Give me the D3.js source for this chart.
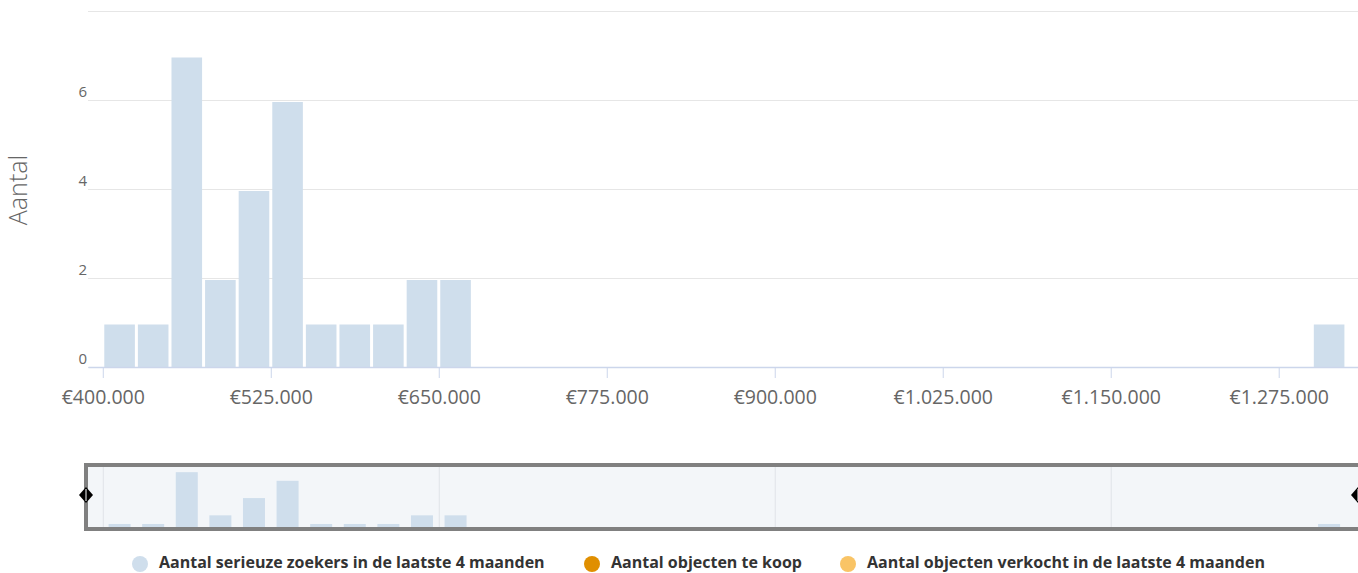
<!DOCTYPE html>
<html>
<head>
<meta charset="utf-8">
<script src="https://cdn.jsdelivr.net/npm/d3@7"></script>
<style>
  body { margin: 0; background: #fff; }
  text { font-family: "Open Sans", Lato, sans-serif; }
</style>
</head>
<body>
<div id="chart"></div>
<script>
// price bins (start of each 25.000 bin)
var binStarts = [400000, 425000, 450000, 475000, 500000, 525000, 550000, 575000, 600000, 625000,
  650000, 675000, 700000, 725000, 750000, 775000, 800000, 825000, 850000, 875000,
  900000, 925000, 950000, 975000, 1000000, 1025000, 1050000, 1075000, 1100000, 1125000,
  1150000, 1175000, 1200000, 1225000, 1250000, 1275000, 1300000];
var binWidth = 25000;
var zoekers = [1, 1, 7, 2, 4, 6, 1, 1, 1, 2,
  2, 0, 0, 0, 0, 0, 0, 0, 0, 0,
  0, 0, 0, 0, 0, 0, 0, 0, 0, 0,
  0, 0, 0, 0, 0, 0, 1];
var xTicks = [400000, 525000, 650000, 775000, 900000, 1025000, 1150000, 1275000];
var yTicks = [0, 2, 4, 6, 8];
var navTicks = [400000, 650000, 900000, 1150000];
var legendItems = ["Aantal serieuze zoekers in de laatste 4 maanden", "Aantal objecten te koop", "Aantal objecten verkocht in de laatste 4 maanden"];
var legendColors = ["#cfdeec", "#e08f00", "#f9c466"];

var W = 1358, H = 573;
var svg = d3.select("#chart").append("svg")
  .attr("width", W).attr("height", H);

var euro = d3.formatLocale({decimal: ",", thousands: ".", grouping: [3], currency: ["€", ""]}).format("$,");

// main scales
var x = d3.scaleLinear().domain([389000, 1334000]).range([88, 1358]);
var y = d3.scaleLinear().domain([0, 8]).range([367, 11]);

// gridlines
svg.append("g")
  .selectAll("line").data(yTicks).enter().append("line")
    .attr("x1", 88).attr("x2", W)
    .attr("y1", function(d) { return y(d) + 0.5; })
    .attr("y2", function(d) { return y(d) + 0.5; })
    .attr("stroke", "#e6e6e6");

// y labels
svg.append("g")
  .selectAll("text").data(yTicks.filter(function(d) { return d < 8; })).enter().append("text")
    .attr("x", 87).attr("y", function(d) { return y(d) - 3; })
    .attr("text-anchor", "end")
    .attr("font-size", "15px").attr("fill", "#666")
    .text(function(d) { return d; });

// bars
svg.append("g")
  .selectAll("rect").data(binStarts).enter().append("rect")
    .attr("x", function(d) { return x(d) + 1.5; })
    .attr("width", function(d) { return x(d + binWidth) - x(d) - 3; })
    .attr("y", function(d, i) { return y(zoekers[i]) + 2; })
    .attr("height", function(d, i) { return Math.max(0, y(0) - y(zoekers[i]) - 2); })
    .attr("fill", "#cfdeec");

// x axis
var xAxis = svg.append("g")
  .attr("transform", "translate(0,367)")
  .call(d3.axisBottom(x).tickValues(xTicks).tickFormat(euro).tickSizeInner(11).tickSizeOuter(0).tickPadding(12));
xAxis.select(".domain").attr("stroke", "#ccd6eb").attr("stroke-width", 1.5);
xAxis.selectAll(".tick line").attr("stroke", "#ccd6eb");
xAxis.selectAll(".tick text")
  .attr("font-family", "'Open Sans', Lato, sans-serif")
  .attr("font-size", "19.5px").attr("fill", "#666");

// y axis title
svg.append("text")
  .attr("transform", "translate(27,190) rotate(-90)")
  .attr("text-anchor", "middle")
  .attr("font-size", "25px").attr("font-weight", 300).attr("fill", "#666")
  .text("Aantal");

// navigator
var nav = svg.append("g");
var ny = d3.scaleLinear().domain([0.65, 7.6]).range([527, 467]).clamp(true);
nav.append("rect")
  .attr("x", 86).attr("y", 465).attr("width", W).attr("height", 64)
  .attr("fill", "#f3f6f9");
nav.selectAll("line.nv").data(navTicks).enter().append("line")
  .attr("class", "nv")
  .attr("x1", function(d) { return x(d) + 0.5; }).attr("x2", function(d) { return x(d) + 0.5; })
  .attr("y1", 465).attr("y2", 529)
  .attr("stroke", "#e0e3e8");
nav.selectAll("rect.nb").data(binStarts).enter().append("rect")
  .attr("class", "nb")
  .attr("x", function(d) { return x(d + binWidth / 2) - 11; })
  .attr("width", 22)
  .attr("y", function(d, i) { return ny(zoekers[i]); })
  .attr("height", function(d, i) { return 527 - ny(zoekers[i]); })
  .attr("fill", "#cfdeec");
nav.append("rect")
  .attr("x", 86).attr("y", 465).attr("width", W).attr("height", 64)
  .attr("fill", "none").attr("stroke", "#808080").attr("stroke-width", 4);
// handles
[86, 1358].forEach(function(hx) {
  nav.append("path")
    .attr("d", "M" + hx + ",487 L" + (hx + 7) + ",495 L" + hx + ",503 L" + (hx - 7) + ",495 Z")
    .attr("fill", "#000");
  nav.append("line")
    .attr("x1", hx).attr("x2", hx).attr("y1", 489).attr("y2", 501)
    .attr("stroke", "#fff").attr("stroke-width", 1);
});

// legend
var legX = [140, 592, 848];
var legend = svg.append("g");
legendItems.forEach(function(t, i) {
  legend.append("circle")
    .attr("cx", legX[i]).attr("cy", 564).attr("r", 8)
    .attr("fill", legendColors[i]);
  legend.append("text")
    .attr("x", legX[i] + 19).attr("y", 568)
    .attr("font-size", "16px").attr("font-weight", "bold").attr("fill", "#333")
    .text(t);
});
</script>
</body>
</html>
